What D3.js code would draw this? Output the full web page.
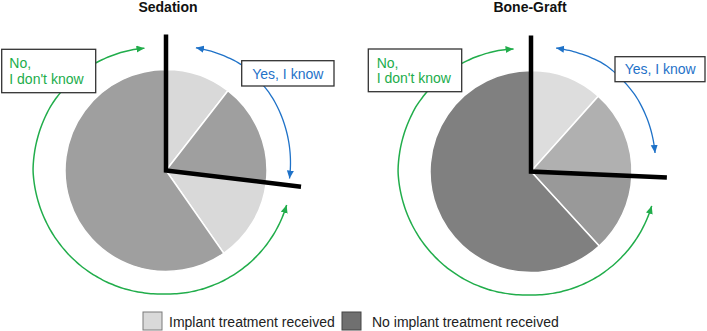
<!DOCTYPE html>
<html>
<head>
<meta charset="utf-8">
<script src="https://cdn.jsdelivr.net/npm/d3@7"></script>
<style>
  body { margin: 0; background: #fff; }
  text { font-family: Arial, "Liberation Sans", Helvetica, sans-serif; }
</style>
</head>
<body>
<script>
// Chart data (percent of respondents, clockwise from 12 o'clock)
var chartTitles = ["Sedation", "Bone-Graft"];
var sliceLabels = ["Yes - implant received", "Yes - no implant", "No - implant received", "No - no implant"];
var sedationValues = [10.5, 16.4, 13.4, 59.7];
var boneGraftValues = [11.6, 14.1, 12.5, 61.8];
var legendLabels = ["Implant treatment received", "No implant treatment received"];
var noLabel = ["No,", "I don't know"];
var yesLabel = "Yes, I know";

// Colours of each slice, as drawn
var sedationColors = ["#d9d9d9", "#9f9f9f", "#d9d9d9", "#9f9f9f"];
var boneGraftColors = ["#dddddd", "#b0b0b0", "#999999", "#808080"];
var legendColors = ["#d9d9d9", "#707070"];
var green = "#21ad4b";
var blue = "#1f72c8";

var svgWidth = 707;
var svgHeight = 331;
var radius = 101;
var lineLength = 136;

// Per-chart layout (annotation boxes and arrow angles in degrees)
var layouts = [
  { cx: 166, cy: 170.5, titleX: 168,
    noBox: { x: 1.7, y: 49.3, w: 94, h: 43.4, tx: 9.3, ty: [68.3, 84] },
    yesBox: { x: 241.7, y: 60.7, w: 92.3, h: 25.3, tx: 287.8, ty: 79.3 },
    yesArrow: [13.7, 94.2], noArrow: [106, 350.3] },
  { cx: 531, cy: 171.5, titleX: 530,
    noBox: { x: 368.3, y: 49, w: 93.4, h: 42.7, tx: 376.7, ty: [67.7, 83.3] },
    yesBox: { x: 615, y: 56.7, w: 90, h: 25, tx: 660.2, ty: 74 },
    yesArrow: [11.5, 83.2], noArrow: [105.9, 352.3] }
];
var allValues = [sedationValues, boneGraftValues];
var allColors = [sedationColors, boneGraftColors];

var svg = d3.select("body")
  .append("svg")
  .attr("width", svgWidth)
  .attr("height", svgHeight);

// arrowhead markers
var defs = svg.append("defs");
[["green", green], ["blue", blue]].forEach(function(m) {
  defs.append("marker")
    .attr("id", "arrow-" + m[0])
    .attr("markerUnits", "userSpaceOnUse")
    .attr("markerWidth", 9)
    .attr("markerHeight", 8)
    .attr("refX", 8)
    .attr("refY", 3.5)
    .attr("orient", "auto-start-reverse")
    .append("path")
    .attr("d", "M0,0 L8,3.5 L0,7 Z")
    .attr("fill", m[1]);
});

var pie = d3.pie().sort(null).value(d => d);
var arc = d3.arc().innerRadius(0).outerRadius(radius);
var rad = d => d * Math.PI / 180;

// radius of the hand-drawn arrows along their angle
var noRadius = d3.scaleLinear().domain([106, 182, 270, 300, 327, 351]).range([125.5, 123.5, 133, 132, 128.5, 124]);
var yesRadius = d3.scaleLinear().domain([12, 35, 55, 92]).range([126, 130, 129, 124]);

var radialLine = d3.lineRadial()
  .angle(d => rad(d[0]))
  .radius(d => d[1])
  .curve(d3.curveBasis);

chartTitles.forEach(function(title, i) {
  var lay = layouts[i];
  var g = svg.append("g").attr("transform", `translate(${lay.cx}, ${lay.cy})`);
  var slices = pie(allValues[i]);

  // pie slices
  g.selectAll("path.slice")
    .data(slices)
    .enter()
    .append("path")
    .attr("class", "slice")
    .attr("d", arc)
    .attr("fill", (d, j) => allColors[i][j])
    .attr("stroke", "#fff")
    .attr("stroke-width", 1.5);

  // black lines splitting "Yes" from "No"
  var yesEnd = slices[1].endAngle;
  var p0 = d3.pointRadial(0, lineLength);
  var p1 = d3.pointRadial(yesEnd, lineLength);
  g.append("path")
    .attr("d", `M${p0[0]},${p0[1]} L0,0 L${p1[0]},${p1[1]}`)
    .attr("fill", "none")
    .attr("stroke", "#000")
    .attr("stroke-width", 4.5)
    .attr("stroke-linejoin", "miter");

  // double-headed arrows
  var noPts = d3.range(lay.noArrow[0], lay.noArrow[1] + 0.01, 2).map(a => [a, noRadius(a)]);
  g.append("path")
    .attr("d", radialLine(noPts))
    .attr("fill", "none")
    .attr("stroke", green)
    .attr("stroke-width", 1.5)
    .attr("marker-start", "url(#arrow-green)")
    .attr("marker-end", "url(#arrow-green)");

  var yesPts = d3.range(lay.yesArrow[0], lay.yesArrow[1] + 0.01, 2).map(a => [a, yesRadius(a)]);
  g.append("path")
    .attr("d", radialLine(yesPts))
    .attr("fill", "none")
    .attr("stroke", blue)
    .attr("stroke-width", 1.3)
    .attr("marker-start", "url(#arrow-blue)")
    .attr("marker-end", "url(#arrow-blue)");

  // title
  svg.append("text")
    .attr("x", lay.titleX)
    .attr("y", 12)
    .attr("text-anchor", "middle")
    .style("font-size", "14px")
    .style("font-weight", "bold")
    .attr("fill", "#111")
    .text(title);

  // "No, I don't know" box
  var nb = lay.noBox;
  svg.append("rect")
    .attr("x", nb.x).attr("y", nb.y)
    .attr("width", nb.w).attr("height", nb.h)
    .attr("fill", "#fff")
    .attr("stroke", "#333")
    .attr("stroke-width", 1.3);
  noLabel.forEach(function(t, k) {
    svg.append("text")
      .attr("x", nb.tx)
      .attr("y", nb.ty[k])
      .style("font-size", "14px")
      .attr("fill", green)
      .text(t);
  });

  // "Yes, I know" box
  var yb = lay.yesBox;
  svg.append("rect")
    .attr("x", yb.x).attr("y", yb.y)
    .attr("width", yb.w).attr("height", yb.h)
    .attr("fill", "#fff")
    .attr("stroke", "#333")
    .attr("stroke-width", 1.3);
  svg.append("text")
    .attr("x", yb.tx)
    .attr("y", yb.ty)
    .attr("text-anchor", "middle")
    .style("font-size", "14px")
    .attr("fill", blue)
    .text(yesLabel);
});

// legend
var legendX = [143, 342];
var legend = svg.append("g");
legendLabels.forEach(function(label, i) {
  legend.append("rect")
    .attr("x", legendX[i])
    .attr("y", 312)
    .attr("width", 19)
    .attr("height", 18)
    .attr("fill", legendColors[i])
    .attr("stroke", i === 0 ? "#7a7a7a" : "#444")
    .attr("stroke-width", 1);
  legend.append("text")
    .attr("x", legendX[i] + (i === 0 ? 26 : 30))
    .attr("y", 326.5)
    .style("font-size", "14px")
    .attr("fill", "#222")
    .text(label);
});
</script>
</body>
</html>
